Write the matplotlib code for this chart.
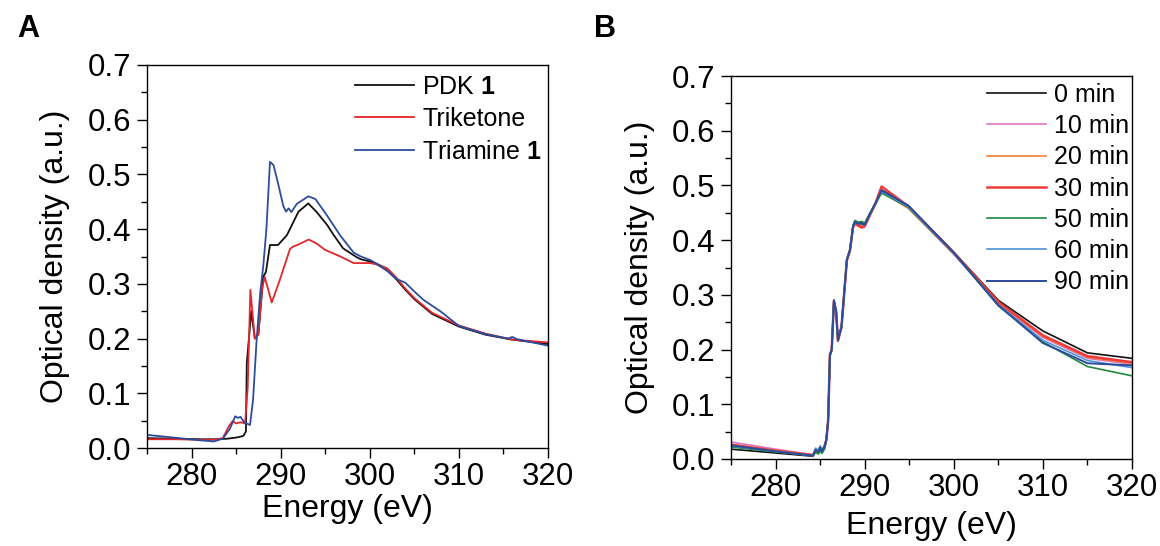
import matplotlib
matplotlib.use("Agg")
import matplotlib.pyplot as plt
from matplotlib.ticker import MultipleLocator

plt.rcParams['font.family'] = ['Liberation Sans', 'DejaVu Sans']
plt.rcParams['mathtext.fontset'] = 'custom'
plt.rcParams['mathtext.rm'] = 'Liberation Sans'
plt.rcParams['mathtext.bf'] = 'Liberation Sans:bold'

# ---------------- Panel A data ----------------
energy_pdk = [275, 278, 281, 283, 284, 285, 285.8, 286.1, 286.2, 286.7, 287.1, 287.5, 288.05,
              288.35, 288.8, 289.7, 290.7, 292.0, 293.1, 294.0, 295.2, 296.0, 297.0, 298.5,
              299.0, 300.0, 301.0, 302.0, 303.0, 304.0, 305.0, 307.0, 310.0, 313.0, 316.0, 320.0]
od_pdk = [0.018, 0.017, 0.016, 0.016, 0.017, 0.019, 0.022, 0.030, 0.155, 0.250, 0.200, 0.209, 0.313,
          0.322, 0.371, 0.371, 0.389, 0.432, 0.447, 0.432, 0.408, 0.388, 0.365, 0.349,
          0.345, 0.341, 0.334, 0.324, 0.308, 0.289, 0.272, 0.245, 0.222, 0.207, 0.198, 0.190]

energy_trik = [275, 278, 281, 282.5, 283.5, 284.2, 284.6, 285.0, 285.5, 286.0, 286.3, 286.6, 287.1,
               287.5, 287.9, 288.2, 289.0, 289.9, 291.05, 291.4, 292.0, 293.15, 294.0, 295.0,
               296.7, 298.2, 299.0, 300.0, 301.0, 302.0, 303.0, 304.0, 305.0, 307.0, 310.0,
               313.0, 316.0, 320.0]
od_trik = [0.016, 0.016, 0.015, 0.015, 0.018, 0.040, 0.049, 0.045, 0.047, 0.045, 0.110, 0.289, 0.200,
           0.207, 0.289, 0.313, 0.266, 0.307, 0.364, 0.368, 0.372, 0.381, 0.374, 0.362,
           0.350, 0.338, 0.338, 0.338, 0.335, 0.328, 0.311, 0.291, 0.274, 0.247, 0.224,
           0.209, 0.198, 0.193]

energy_tria = [275, 278, 281, 282.5, 283.5, 284.3, 284.9, 285.2, 285.5, 285.9, 286.56, 286.9, 287.3,
               287.7, 288.05, 288.4, 288.8, 289.2, 289.7, 290.3, 290.6, 290.9, 291.2, 291.8,
               293.1, 293.9, 295.2, 296.7, 298.2, 299.0, 300.0, 301.0, 302.0, 303.0, 304.0,
               305.0, 306.0, 308.0, 310.0, 313.0, 315.5, 316.0, 316.5, 320.0]
od_tria = [0.024, 0.019, 0.014, 0.012, 0.017, 0.035, 0.058, 0.055, 0.057, 0.047, 0.042, 0.088, 0.197,
           0.283, 0.333, 0.400, 0.523, 0.517, 0.484, 0.442, 0.432, 0.438, 0.431, 0.446,
           0.460, 0.455, 0.425, 0.388, 0.357, 0.350, 0.344, 0.335, 0.323, 0.309, 0.302,
           0.286, 0.271, 0.249, 0.223, 0.208, 0.200, 0.203, 0.199, 0.187]

labels_a = ["PDK $\\mathbf{1}$", "Triketone", "Triamine $\\mathbf{1}$"]
colors_a = ["#111111", "#E3262B", "#2D4C9C"]

# ---------------- Panel B data ----------------
energy_b = [275, 280, 284.2, 284.5, 284.8, 285.0, 285.2, 285.5, 285.7, 285.9, 286.1, 286.3, 286.55,
            286.8, 287.0, 287.4, 287.7, 288.0, 288.35, 288.7, 288.9, 289.3, 289.7, 290.0, 290.6,
            291.2, 291.9, 294.9, 300, 305, 310, 315, 320]

od_0min = [0.018, 0.011, 0.005, 0.016, 0.012, 0.020, 0.013, 0.022, 0.035, 0.070, 0.190, 0.200, 0.290,
           0.270, 0.217, 0.242, 0.303, 0.364, 0.382, 0.425, 0.434, 0.431, 0.432, 0.428, 0.449,
           0.467, 0.492, 0.463, 0.378, 0.290, 0.234, 0.194, 0.184]
od_10min = [0.031, 0.018, 0.008, 0.018, 0.014, 0.022, 0.015, 0.024, 0.036, 0.072, 0.188, 0.198, 0.288,
            0.268, 0.216, 0.240, 0.301, 0.362, 0.380, 0.423, 0.430, 0.426, 0.425, 0.426, 0.446,
            0.465, 0.491, 0.459, 0.374, 0.284, 0.222, 0.184, 0.173]
od_20min = [0.027, 0.016, 0.007, 0.017, 0.013, 0.021, 0.014, 0.023, 0.036, 0.071, 0.192, 0.199, 0.289,
            0.269, 0.217, 0.241, 0.302, 0.363, 0.381, 0.424, 0.432, 0.428, 0.427, 0.427, 0.447,
            0.465, 0.488, 0.458, 0.375, 0.285, 0.224, 0.186, 0.175]
od_30min = [0.026, 0.015, 0.007, 0.017, 0.012, 0.021, 0.014, 0.023, 0.035, 0.071, 0.191, 0.199, 0.289,
            0.269, 0.216, 0.241, 0.302, 0.363, 0.381, 0.424, 0.431, 0.426, 0.423, 0.425, 0.446,
            0.467, 0.498, 0.462, 0.377, 0.287, 0.226, 0.188, 0.177]
od_50min = [0.022, 0.013, 0.006, 0.012, 0.009, 0.015, 0.010, 0.018, 0.034, 0.069, 0.189, 0.199, 0.289,
            0.269, 0.217, 0.242, 0.303, 0.365, 0.383, 0.427, 0.436, 0.433, 0.434, 0.431, 0.450,
            0.466, 0.486, 0.460, 0.376, 0.280, 0.214, 0.169, 0.152]
od_60min = [0.024, 0.014, 0.006, 0.020, 0.015, 0.024, 0.016, 0.025, 0.036, 0.070, 0.190, 0.200, 0.290,
            0.270, 0.217, 0.242, 0.303, 0.364, 0.382, 0.425, 0.433, 0.430, 0.430, 0.428, 0.448,
            0.466, 0.489, 0.461, 0.376, 0.282, 0.217, 0.180, 0.167]
od_90min = [0.025, 0.014, 0.006, 0.017, 0.013, 0.021, 0.014, 0.023, 0.035, 0.070, 0.190, 0.200, 0.290,
            0.270, 0.217, 0.242, 0.303, 0.364, 0.382, 0.425, 0.433, 0.430, 0.430, 0.428, 0.448,
            0.467, 0.491, 0.463, 0.377, 0.281, 0.212, 0.175, 0.171]

labels_b = ["0 min", "10 min", "20 min", "30 min", "50 min", "60 min", "90 min"]
colors_b = ["#111111", "#DE74C4", "#EE7F33", "#EE3A3A", "#1F8A3E", "#4F93D8", "#2B4B9B"]
widths_b = [1.2, 1.2, 1.2, 1.8, 1.2, 1.2, 1.4]

# ---------------- Figure ----------------
W, H = 1160, 546
fig = plt.figure(figsize=(W / 100, H / 100), dpi=100)

def px_axes(left, top, right, bottom):
    return fig.add_axes([left / W, 1 - bottom / H, (right - left) / W, (bottom - top) / H])

axA = px_axes(147, 65, 548, 448)
axB = px_axes(731, 76, 1132, 459)

tick_fs = 22.5
label_fs = 23
legend_fs = 18

def style(ax, xlab_y, ylab_x):
    ax.set_xlim(275, 320)
    ax.set_ylim(0, 0.7)
    ax.xaxis.set_major_locator(MultipleLocator(10))
    ax.xaxis.set_minor_locator(MultipleLocator(5))
    ax.yaxis.set_major_locator(MultipleLocator(0.1))
    ax.yaxis.set_minor_locator(MultipleLocator(0.05))
    ax.set_xticks([280, 290, 300, 310, 320])
    ax.tick_params(which='major', direction='out', length=7, width=1.0, labelsize=tick_fs, pad=4)
    ax.tick_params(axis='x', which='major', pad=3)
    ax.tick_params(which='minor', direction='out', length=4, width=1.0)
    ax.yaxis.set_major_formatter(plt.FuncFormatter(lambda v, p: f"{v:.1f}"))
    for s in ax.spines.values():
        s.set_linewidth(1.0)
    ax.set_xlabel("Energy (eV)", fontsize=label_fs)
    ax.set_ylabel("Optical density (a.u.)", fontsize=label_fs)
    ax.xaxis.set_label_coords(0.5, xlab_y)
    ax.xaxis.label.set_verticalalignment('center')
    ax.yaxis.set_label_coords(ylab_x, 0.5)
    ax.yaxis.label.set_verticalalignment('center')

# Panel A
for e, v, lab, c in zip([energy_pdk, energy_trik, energy_tria], [od_pdk, od_trik, od_tria], labels_a, colors_a):
    axA.plot(e, v, color=c, lw=1.3, label=lab)
style(axA, -0.158, -0.229)
axA.legend(loc='upper left', bbox_to_anchor=(0.519, 0.975), frameon=False, fontsize=legend_fs,
           handlelength=2.35, handletextpad=0.33, labelspacing=0.34, borderpad=0, borderaxespad=0)

# Panel B
series_b = [od_0min, od_10min, od_20min, od_30min, od_50min, od_60min, od_90min]
for v, lab, c, w in zip(series_b, labels_b, colors_b, widths_b):
    axB.plot(energy_b, v, color=c, lw=w, label=lab)
style(axB, -0.175, -0.227)
axB.legend(loc='upper left', bbox_to_anchor=(0.638, 0.982), frameon=False, fontsize=legend_fs,
           handlelength=2.35, handletextpad=0.33, labelspacing=0.29, borderpad=0, borderaxespad=0)

fig.text(28 / W, 1 - 29 / H, "A", fontsize=22, fontweight='bold', ha='center', va='center')
fig.text(605 / W, 1 - 29 / H, "B", fontsize=22, fontweight='bold', ha='center', va='center')

fig.savefig("out.png", dpi=100)
